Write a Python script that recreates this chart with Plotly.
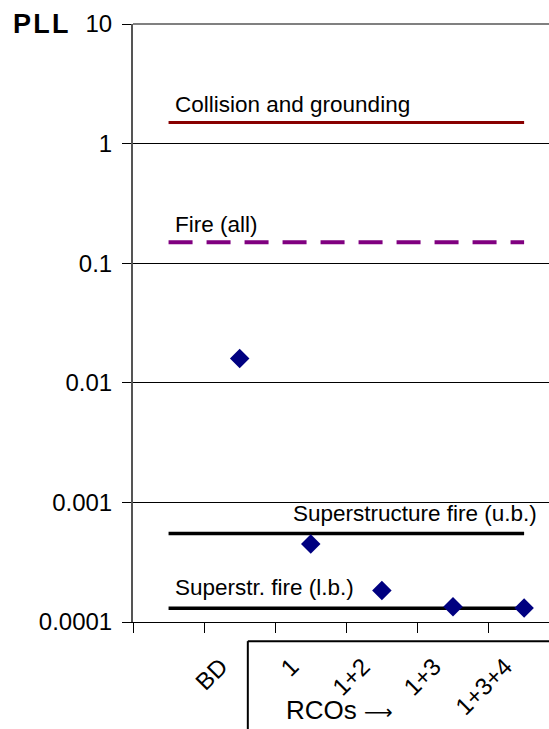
import math
import plotly.graph_objects as go

# Category slots along the x axis (slot 0 is an empty lead-in slot)
categories = ["BD", "1", "1+2", "1+3", "1+3+4"]
cat_pos = [1, 2, 3, 4, 5]
pll_values = [0.016, 4.5e-4, 1.83e-4, 1.34e-4, 1.31e-4]

# Reference risk levels
ref_names = ["Collision and grounding", "Fire (all)",
             "Superstructure fire (u.b.)", "Superstr. fire (l.b.)"]
ref_values = [1.5, 0.15, 5.5e-4, 1.3e-4]
ref_colors = ["#880000", "#800080", "#000000", "#000000"]
ref_dash = ["solid", "24px,14px", "solid", "solid"]
ref_width = [3, 4, 3.5, 3.5]
line_x = [0, 5]

y_ticks = [10, 1, 0.1, 0.01, 0.001, 0.0001]
y_tick_text = ["10", "1", "0.1", "0.01", "0.001", "0.0001"]

FONT = "Liberation Sans, Arial, sans-serif"

fig = go.Figure()

for name, val, col, dash, w in zip(ref_names, ref_values, ref_colors, ref_dash, ref_width):
    fig.add_trace(go.Scatter(
        x=line_x, y=[val, val], mode="lines", name=name,
        line=dict(color=col, width=w, dash=dash), showlegend=False,
        hoverinfo="skip"))

fig.add_trace(go.Scatter(
    x=cat_pos, y=pll_values, mode="markers", name="PLL",
    marker=dict(symbol="diamond", size=15, color="#000080"),
    showlegend=False))

# Labels above the reference lines: (x anchor value, side, x shift, y shift)
label_specs = [
    (0, "left", 4, 4),
    (0, "left", 4, 3),
    (5, "right", 15, 5),
    (0, "left", 4, 6),
]
for (x0, anchor, xs, ys), name, val in zip(label_specs, ref_names, ref_values):
    fig.add_annotation(
        x=x0, y=math.log10(val), xref="x", yref="y",
        text=name, showarrow=False, xanchor=anchor, yanchor="bottom",
        xshift=xs, yshift=ys,
        font=dict(family=FONT, size=22.5, color="#000000"))

# Y axis title in the top-left corner
fig.add_annotation(
    x=-0.293, y=1.0, xref="paper", yref="paper", text="<b>P\u200aL\u200aL</b>",
    showarrow=False, xanchor="left", yanchor="middle",
    font=dict(family=FONT, size=27, color="#000000"))

# Upper border of the plot area
fig.add_shape(type="line", xref="paper", yref="paper",
              x0=0, x1=1, y0=1, y1=1,
              line=dict(color="#808080", width=2))

# Bracket marking the RCO group
box_x0 = 0.276
box_top = -0.032
fig.add_shape(type="line", xref="paper", yref="paper",
              x0=box_x0, x1=box_x0, y0=box_top, y1=-0.2,
              line=dict(color="#000000", width=2))
fig.add_shape(type="line", xref="paper", yref="paper",
              x0=box_x0, x1=1.0, y0=box_top, y1=box_top,
              line=dict(color="#000000", width=2))
fig.add_annotation(
    x=0.362, y=-0.147, xref="paper", yref="paper",
    text="RCOs <span style='font-family:DejaVu Sans;font-size:20px'>\u27f6</span>",
    showarrow=False, xanchor="left", yanchor="middle",
    font=dict(family=FONT, size=26, color="#000000"))

fig.update_xaxes(
    range=[-0.5, 5.35], tickmode="array", tickvals=cat_pos, ticktext=categories,
    tickangle=-45, ticks="outside", ticklen=20, tickcolor="rgba(0,0,0,0)",
    ticklabelshift=-19,
    tickfont=dict(family=FONT, size=24, color="#000000"),
    showgrid=False, zeroline=False, showline=True, linecolor="#000000", linewidth=1,
    minor=dict(tickmode="array", tickvals=[-0.5, 0.5, 1.5, 2.5, 3.5, 4.5],
               ticks="outside", ticklen=10, tickcolor="#000000", tickwidth=1,
               showgrid=False),
    fixedrange=True)

fig.update_yaxes(
    type="log", range=[-4, 1], tickmode="array", tickvals=y_ticks, ticktext=y_tick_text,
    ticks="outside", ticklen=9, tickcolor="#000000", tickwidth=1,
    ticklabelstandoff=5,
    tickfont=dict(family=FONT, size=24, color="#000000"),
    showgrid=True, gridcolor="#000000", gridwidth=1,
    zeroline=False, showline=True, linecolor="#555555", linewidth=2,
    fixedrange=True)

fig.update_layout(
    width=549, height=729,
    margin=dict(l=133, r=0, t=24, b=107),
    paper_bgcolor="#ffffff", plot_bgcolor="#ffffff",
    font=dict(family=FONT, color="#000000"),
    showlegend=False)

fig.write_html("out.html")
